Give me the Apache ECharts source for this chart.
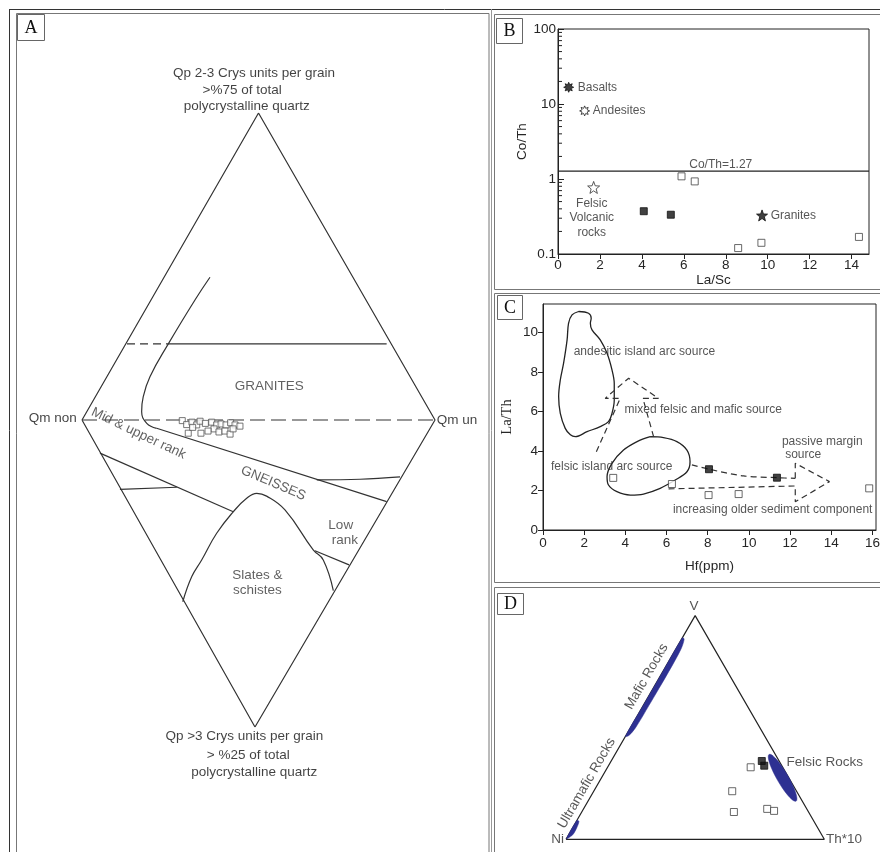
<!DOCTYPE html>
<html><head><meta charset="utf-8">
<script src="https://cdn.jsdelivr.net/npm/echarts@6/dist/echarts.min.js"></script>
<style>html,body{margin:0;padding:0;background:#fff}#c{width:880px;height:852px}</style>
</head><body><div id="c"></div>
<script>
// ================= DATA =================
// ---- Panel A (diagram units: Qm non = -100, Qm un = +100, top apex = +100, bottom apex = -100)
const aOutline = [[-100,0],[0,100],[100,0],[-2,-100],[-100,0]];
const aGraniteTopDashed = [[-74.5,24.8],[-51.8,24.8]];
const aGraniteTopSolid = [[-51.8,24.8],[72.6,24.8]];
const aMidline = [[-100,0],[100,0]];
const aCurve = [[-27.5,46.5],[-36.0,39.1],[-51.1,24.8],[-61.5,14.1],[-65.3,7.6],[-66.2,2.7],[-63.3,-1.1],[-57.7,-2.7]];
const aBoundary = [[-57.7,-2.7],[72.6,-26.6]];
const aGneissLeft = [[-89.8,-10.8],[-14.3,-29.9]];
const aShortLeft = [[-78.5,-22.6],[-46.3,-21.9]];
const aShortRight = [[33.0,-19.5],[57.5,-19.3],[80.2,-18.5]];
const aLowRank = [[32.0,-42.6],[51.3,-47.2]];
const aSlates = [[-42.9,-59.2],[-37.8,-51.0],[-32.2,-45.6],[-23.7,-36.9],[-14.3,-29.9],[-6.7,-25.5],[-1.0,-23.9],[4.6,-24.8],[15.0,-29.3],[31.0,-42.3],[36.7,-45.6],[42.4,-55.6]];
const aSamples = [[-43.2,-0.2],[-40.7,-1.5],[-37.7,-0.7],[-35.0,-1.6],[-33.1,-0.4],[-30.1,-1.1],[-26.5,-0.7],[-23.7,-1.6],[-21.2,-1.3],[-18.4,-1.6],[-15.8,-0.9],[-13.3,-1.6],[-10.5,-2.0],[-39.8,-4.3],[-32.6,-4.3],[-37.3,-2.4],[-25.2,-2.9],[-22.4,-3.9],[-19.0,-3.6],[-16.1,-4.6],[-28.6,-3.6],[-14.4,-2.9]];

// ---- Panel B (La/Sc vs Co/Th)
const bBasalts = [[0.51, 16.7]];
const bAndesites = [[1.27, 8.09]];
const bFelsicVolcanic = [[1.70, 0.772]];
const bGranites = [[9.73, 0.327]];
const bSamplesFilled = [[4.09, 0.372],[5.38, 0.334]];
const bSamplesOpen = [[5.89, 1.085],[6.52, 0.929],[8.59, 0.120],[9.70, 0.141],[14.35, 0.169]];
const bThreshold = 1.27;
const bXTicks = [0,2,4,6,8,10,12,14];
const bYTicks = [0.1,1,10,100];
const bMinorTicks = [0.2,0.3,0.4,0.5,0.6,0.7,0.8,0.9,2,3,4,5,6,7,8,9,20,30,40,50,60,70,80,90];

// ---- Panel C (Hf vs La/Th)
const cSamplesFilled = [[8.06, 3.08],[11.36, 2.65]];
const cSamplesOpen = [[3.41, 2.64],[6.26, 2.33],[8.04, 1.77],[9.50, 1.82],[15.84, 2.11]];
const cAndesiticField = [[1.73,11.07],[2.21,10.98],[2.34,10.73],[2.30,10.47],[2.38,10.14],[2.78,9.63],[3.11,8.95],[3.35,8.11],[3.46,7.43],[3.46,6.59],[3.35,5.91],[3.18,5.49],[2.78,5.24],[2.14,4.98],[1.57,4.73],[1.33,4.82],[1.08,5.15],[0.84,5.91],[0.76,6.76],[0.84,7.60],[1.00,8.45],[1.17,9.63],[1.24,10.47],[1.41,10.90],[1.73,11.07]];
const cFelsicField = [[5.21,4.73],[5.85,4.68],[6.50,4.48],[6.99,4.05],[7.14,3.46],[6.99,2.95],[6.42,2.53],[5.69,2.11],[4.88,1.82],[4.24,1.77],[3.59,1.94],[3.18,2.28],[3.11,2.70],[3.35,3.38],[3.91,4.05],[4.57,4.48],[5.21,4.73]];
const cMixedArrow = [[2.59,3.97],[3.75,6.67],[3.02,6.67],[4.16,7.69],[5.61,6.67],[4.85,6.67],[5.37,4.73]];
const cUpperShaft = [[7.23,3.30],[8.06,3.08],[9.74,2.74],[11.36,2.65],[12.25,2.62]];
const cArrowHead = [[12.25,2.62],[12.25,3.38],[13.91,2.45],[12.25,1.43],[12.25,2.23],[5.94,2.08]];
const cXTicks = [0,2,4,6,8,10,12,14,16];
const cYTicks = [0,2,4,6,8,10];

// ---- Panel D (ternary V - Ni - Th*10, values in %: [V, Ni, Th*10])
const dSamplesFilled = [[35.0,6.7,58.3],[32.9,6.8,60.3]];
const dSamplesOpen = [[32.2,12.4,55.4],[21.5,24.9,53.6],[12.2,28.9,58.9],[13.6,15.3,71.1],[12.7,13.1,74.2]];
const dMaficField = [[46,54,0],[60,40,0],[75,25,0],[90,10,0],[89.5,9.5,1.0],[85,13,2.0],[75,22.8,2.3],[60,38,2.2],[50,48.0,2.0],[46.5,52.3,1.2]];
const dUltramaficField = [[0.3,99.7,0],[8.5,91.5,0],[8,91,1.0],[5,93.5,1.6],[2,96.5,1.6],[0.5,99,0.5]];
const dFelsicCentre = [27.5, 2.4, 70.1];
const dFelsicSemiAxes = [10.45, 2.5];

// ================= HELPERS =================
const FONT = 'Liberation Sans, Arial, Helvetica, sans-serif';
const SERIF = 'Liberation Serif, Times New Roman, serif';
const INK = '#262626';
function tern(p){ const t=p[0]+p[1]+p[2]; const b=p[0]/t, c=p[2]/t; return [c+b/2, b*0.8660254]; }
function burstPath(n, rIn){
  let s='path://'; for(let k=0;k<2*n;k++){ const r=(k%2===0)?10:10*rIn; const a=Math.PI*k/n - Math.PI/2; s+=(k?'L':'M')+(10+r*Math.cos(a)).toFixed(2)+' '+(10+r*Math.sin(a)).toFixed(2)+' '; } return s+'Z';
}
const STAR = burstPath(5,0.42), BURST = burstPath(8,0.55);
function lineS(gi, data, opt){
  opt = opt||{};
  return {type:'line', xAxisIndex:gi, yAxisIndex:gi, data:data, symbol:'none', smooth:opt.smooth||false, silent:true, animation:false,
    lineStyle:{color:opt.color||'#333', width:opt.width||1.2, type:opt.type||'solid'}, z:opt.z||2};
}
function pointS(gi, data, sym, size, fill, stroke){
  return {type:'scatter', xAxisIndex:gi, yAxisIndex:gi, data:data, symbol:sym, symbolSize:size, clip:false, animation:false,
    itemStyle:{color:fill, borderColor:stroke, borderWidth:1}, z:5};
}
function textS(gi, items, base){
  return {type:'scatter', xAxisIndex:gi, yAxisIndex:gi, clip:false, symbolSize:1, silent:true, animation:false,
    itemStyle:{color:'rgba(0,0,0,0)'}, z:6,
    data: items.map(it=>({value:[it[1],it[2]], label:Object.assign({show:true, position:'inside', formatter:it[0],
      align:it[3]||'center', verticalAlign:'middle', rotate:it[4]||0, color:base.color, fontSize:base.fontSize, fontFamily:FONT, lineHeight:base.lineHeight||base.fontSize+2}, it[5]||{})}))};
}
function polyS(gi, pts, fill){
  return {type:'custom', coordinateSystem:'cartesian2d', xAxisIndex:gi, yAxisIndex:gi, data:[[0,0]], silent:true, animation:false, z:3,
    renderItem:(p,api)=>({type:'polygon', shape:{points:pts.map(q=>api.coord(q)), smooth:0.3}, style:{fill:fill, stroke:fill, lineWidth:0.5}})};
}

// D positions
const dTri = [[0,100,0],[100,0,0],[0,0,100],[0,100,0]].map(tern);
const felsicPts = [];
for(let k=0;k<36;k++){ const th=2*Math.PI*k/36; const ni=dFelsicCentre[1]+dFelsicSemiAxes[1]*Math.sin(th);
  const v=dFelsicCentre[0]+dFelsicSemiAxes[0]*Math.cos(th)-dFelsicSemiAxes[1]*0.5*Math.sin(th); felsicPts.push(tern([v,ni,100-v-ni])); }

// Annotation texts (text, x, y, align, rotate)
const aTitles = [['Qp 2-3 Crys units per grain',-2.5,112.9],['>%75 of total',-9.3,107.3],['polycrystalline quartz',-6.7,102.1],
  ['Qm non',-103,0.5,'right'],['Qm un',101,0,'left'],
  ['Qp >3 Crys units per grain',-8.0,-102.9],['> %25 of total',-5.8,-109.3],['polycrystalline quartz',-2.4,-114.6]];
const aFields = [['GRANITES',6.1,11.1],['Mid & upper rank',-68,-4.4,'center',-25.5],['GNEISSES',8.4,-20.6,'center',-23],
  ['Low',46.6,-34.2],['rank',49.0,-39.3],['Slates &',-0.7,-50.5],['schistes',-0.7,-55.6]];
const bTexts = [['Basalts',0.94,16.7,'left'],['Andesites',1.66,8.09,'left'],['Felsic\nVolcanic\nrocks',1.61,0.302],['Granites',10.14,0.327,'left'],['Co/Th=1.27',7.76,1.55]];
const cTexts = [['andesitic island arc source',1.49,9.01,'left'],['mixed felsic and mafic source',3.96,6.12,'left'],['felsic island arc source',0.39,3.21,'left'],
  ['passive margin',11.60,4.48,'left'],['source',11.76,3.80,'left'],['increasing older sediment component',6.31,1.01,'left']];
const dTexts = [['V',0.4955,0.9005],['Ni',-0.008,0,'right'],['Th*10',1.007,0,'left'],['Felsic Rocks',0.854,0.300,'left'],
  ['Mafic Rocks',0.312,0.630,'center',60],['Ultramafic Rocks',0.080,0.217,'center',60]];

const hiddenAxis = (min,max)=>({type:'value', min:min, max:max, show:false, splitLine:{show:false}});

const option = {
  animation:false,
  backgroundColor:'#fff',
  grid:[
    {left:82, top:113, width:353, height:614, outerBoundsMode:'none'},
    {left:558, top:29, width:311, height:225, show:true, borderColor:'#222', borderWidth:1, backgroundColor:'transparent', outerBoundsMode:'none'},
    {left:543, top:304, width:333, height:226, show:true, borderColor:'#222', borderWidth:1, backgroundColor:'transparent', outerBoundsMode:'none'},
    {left:566, top:615.6, width:258.3, height:223.7, outerBoundsMode:'none'}
  ],
  xAxis:[
    hiddenAxis(-100,100),
    {type:'value', gridIndex:1, min:0, max:14.83, interval:2, name:'La/Sc', nameLocation:'middle', nameGap:17,
      nameTextStyle:{color:INK, fontSize:13.5, fontFamily:FONT},
      axisLine:{show:true, onZero:false, lineStyle:{color:'#222'}}, axisTick:{show:true, length:5, lineStyle:{color:'#222'}},
      axisLabel:{color:INK, fontSize:13.5, fontFamily:FONT, margin:4, showMaxLabel:false}, splitLine:{show:false}},
    {type:'value', gridIndex:2, min:0, max:16.17, interval:2, name:'Hf(ppm)', nameLocation:'middle', nameGap:29,
      nameTextStyle:{color:INK, fontSize:13.5, fontFamily:FONT},
      axisLine:{show:true, onZero:false, lineStyle:{color:'#222'}}, axisTick:{show:true, length:5, lineStyle:{color:'#222'}},
      axisLabel:{color:INK, fontSize:13.5, fontFamily:FONT, margin:6, showMaxLabel:false, showMinLabel:true}, splitLine:{show:false}},
    Object.assign(hiddenAxis(0,1),{gridIndex:3})
  ],
  yAxis:[
    hiddenAxis(-100,100),
    {type:'log', gridIndex:1, min:0.1, max:100, logBase:10, name:'Co/Th', nameLocation:'middle', nameGap:16, nameRotate:90,
      nameTextStyle:{color:INK, fontSize:13.5, fontFamily:FONT},
      axisLine:{show:true, lineStyle:{color:'#222'}}, axisTick:{show:true, inside:true, length:6, lineStyle:{color:'#222'}},
      axisLabel:{color:INK, fontSize:13.5, fontFamily:FONT, margin:2, formatter:v=>String(+v.toPrecision(3))}, splitLine:{show:false}, minorTick:{show:false}},
    {type:'value', gridIndex:2, min:0, max:11.45, interval:2, name:'La/Th', nameLocation:'middle', nameGap:28, nameRotate:90,
      nameTextStyle:{color:INK, fontSize:14.5, fontFamily:SERIF},
      axisLine:{show:true, onZero:false, lineStyle:{color:'#222'}}, axisTick:{show:true, length:5, lineStyle:{color:'#222'}},
      axisLabel:{color:INK, fontSize:13.5, fontFamily:FONT, margin:5, showMaxLabel:false}, splitLine:{show:false}},
    Object.assign(hiddenAxis(0,0.8660254),{gridIndex:3})
  ],
  series:[
    // ---- A
    lineS(0, aOutline, {color:'#333', width:1.2}),
    lineS(0, aGraniteTopDashed, {type:[8,5]}),
    lineS(0, aGraniteTopSolid, {}),
    lineS(0, aMidline, {type:[15,6]}),
    lineS(0, aCurve, {smooth:0.45}),
    lineS(0, aBoundary, {}),
    lineS(0, aGneissLeft, {}),
    lineS(0, aShortLeft, {}),
    lineS(0, aShortRight, {smooth:0.4}),
    lineS(0, aLowRank, {}),
    lineS(0, aSlates, {smooth:0.45}),
    pointS(0, aSamples, 'rect', 6, '#fff', '#555'),
    textS(0, aTitles, {color:'#111', fontSize:13.5}),
    textS(0, aFields, {color:'#3a3a3a', fontSize:13.5}),
    // ---- B
    lineS(1, [[0,bThreshold],[14.83,bThreshold]], {color:'#222', width:1.2}),
    {type:'custom', coordinateSystem:'cartesian2d', xAxisIndex:1, yAxisIndex:1, silent:true, animation:false, z:4,
      data:bMinorTicks.map(v=>[0,v]),
      renderItem:(p,api)=>{const pt=api.coord([0,api.value(1)]); return {type:'line', shape:{x1:pt[0],y1:pt[1],x2:pt[0]+4,y2:pt[1]}, style:{stroke:'#222', lineWidth:1}};}},
    pointS(1, bBasalts, BURST, 10, '#111', '#111'),
    pointS(1, bAndesites, BURST, 10, '#fff', '#222'),
    pointS(1, bFelsicVolcanic, STAR, 12, '#fff', '#333'),
    pointS(1, bGranites, STAR, 11, '#111', '#111'),
    pointS(1, bSamplesFilled, 'rect', 7, '#111', '#111'),
    pointS(1, bSamplesOpen, 'rect', 7, '#fff', '#444'),
    textS(1, bTexts, {color:'#2a2a2a', fontSize:12, lineHeight:14.5}),
    // ---- C
    lineS(2, cAndesiticField, {smooth:0.35, color:'#222', width:1.3}),
    lineS(2, cFelsicField, {smooth:0.35, color:'#222', width:1.3}),
    lineS(2, cMixedArrow, {type:[6,4], color:'#333', width:1.2}),
    lineS(2, cUpperShaft, {type:[6,4], color:'#333', width:1.2, smooth:0.3}),
    lineS(2, cArrowHead, {type:[6,4], color:'#333', width:1.2}),
    pointS(2, cSamplesFilled, 'rect', 7, '#111', '#111'),
    pointS(2, cSamplesOpen, 'rect', 7, '#fff', '#444'),
    textS(2, cTexts, {color:'#2a2a2a', fontSize:12}),
    // ---- D
    lineS(3, dTri, {color:'#222', width:1.2}),
    polyS(3, dMaficField.map(tern), '#2e3192'),
    polyS(3, dUltramaficField.map(tern), '#2e3192'),
    polyS(3, felsicPts, '#2e3192'),
    pointS(3, dSamplesFilled.map(tern), 'rect', 7, '#111', '#111'),
    pointS(3, dSamplesOpen.map(tern), 'rect', 7, '#fff', '#444'),
    textS(3, dTexts, {color:'#2a2a2a', fontSize:13.5})
  ],
  graphic:[
    {type:'line', shape:{x1:9, y1:9.5, x2:880, y2:9.5}, style:{stroke:'#333', lineWidth:1}, silent:true},
    {type:'line', shape:{x1:9.5, y1:9, x2:9.5, y2:852}, style:{stroke:'#333', lineWidth:1}, silent:true},
    {type:'rect', shape:{x:16.5, y:13.5, width:472.5, height:860}, style:{fill:'none', stroke:'#777', lineWidth:1}, silent:true},
    {type:'line', shape:{x1:491.5, y1:9, x2:491.5, y2:852}, style:{stroke:'#999', lineWidth:1}, silent:true},
    {type:'rect', shape:{x:494.5, y:14.5, width:400, height:275}, style:{fill:'none', stroke:'#777', lineWidth:1}, silent:true},
    {type:'rect', shape:{x:494.5, y:293.5, width:400, height:289}, style:{fill:'none', stroke:'#777', lineWidth:1}, silent:true},
    {type:'rect', shape:{x:494.5, y:587.5, width:400, height:280}, style:{fill:'none', stroke:'#777', lineWidth:1}, silent:true},
    {type:'rect', shape:{x:17.5, y:14.5, width:27, height:26}, style:{fill:'#fff', stroke:'#666', lineWidth:1}, silent:true},
    {type:'text', x:31, y:28, style:{text:'A', font:'18px '+SERIF, fill:'#111', align:'center', verticalAlign:'middle'}, silent:true},
    {type:'rect', shape:{x:496.5, y:18.5, width:26, height:25}, style:{fill:'#fff', stroke:'#666', lineWidth:1}, silent:true},
    {type:'text', x:509.5, y:31.5, style:{text:'B', font:'18px '+SERIF, fill:'#111', align:'center', verticalAlign:'middle'}, silent:true},
    {type:'rect', shape:{x:497.5, y:295.5, width:25, height:24}, style:{fill:'#fff', stroke:'#666', lineWidth:1}, silent:true},
    {type:'text', x:510, y:308, style:{text:'C', font:'18px '+SERIF, fill:'#111', align:'center', verticalAlign:'middle'}, silent:true},
    {type:'rect', shape:{x:497.5, y:593.5, width:26, height:21}, style:{fill:'#fff', stroke:'#666', lineWidth:1}, silent:true},
    {type:'text', x:510.5, y:604.5, style:{text:'D', font:'18px '+SERIF, fill:'#111', align:'center', verticalAlign:'middle'}, silent:true}
  ]
};
const chart = echarts.init(document.getElementById('c'), null, {renderer:'canvas'});
chart.setOption(option);
</script>
</body></html>
